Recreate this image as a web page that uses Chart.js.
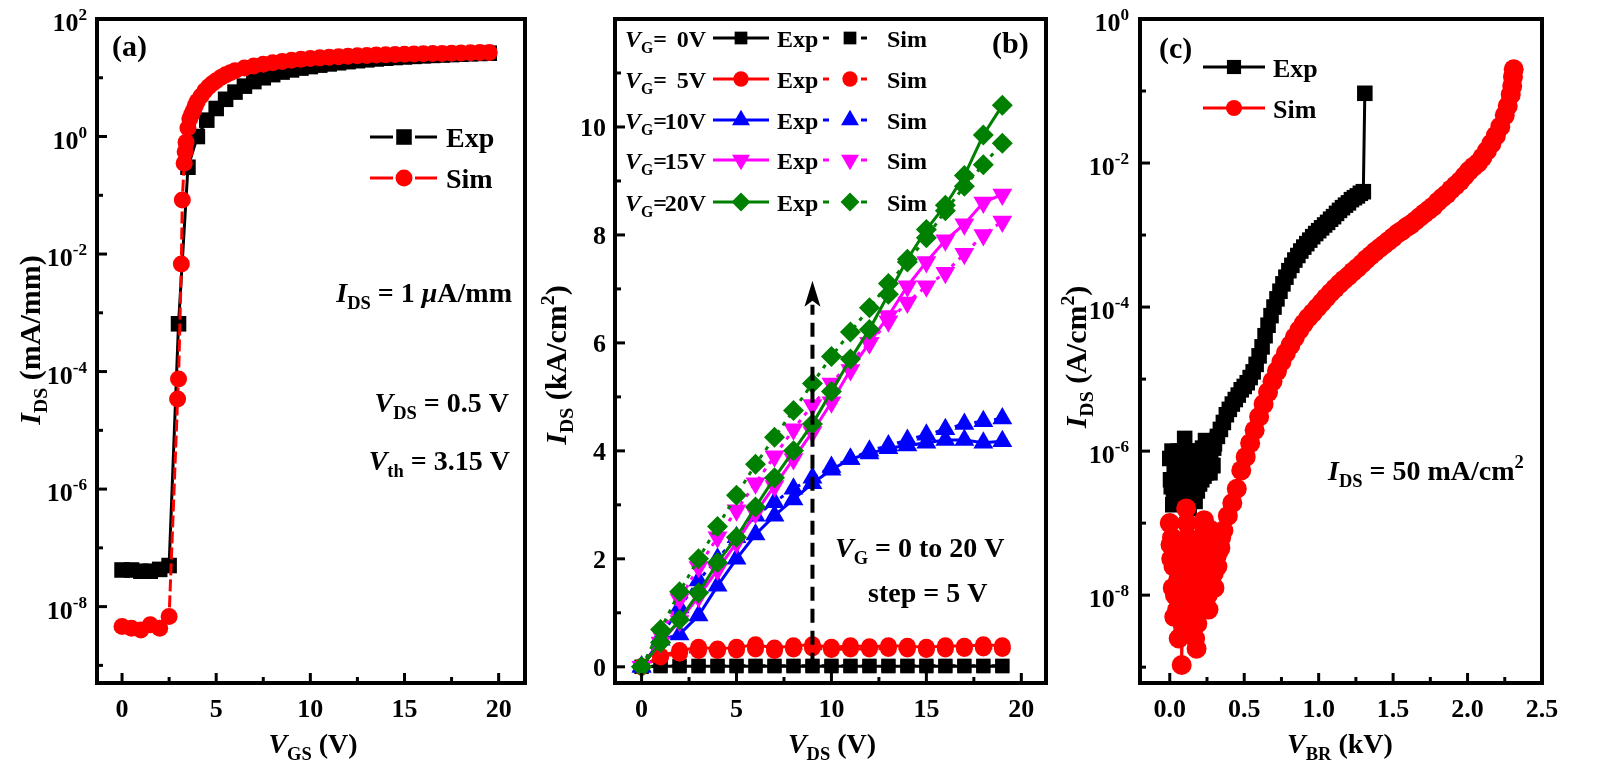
<!DOCTYPE html>
<html><head><meta charset="utf-8">
<script src="https://cdn.jsdelivr.net/npm/chart.js@4/dist/chart.umd.min.js"></script>
<style>
html,body{margin:0;padding:0;background:#fff;}
body{width:1599px;height:767px;overflow:hidden;position:relative;}
canvas{position:absolute;left:0;top:0;}
</style></head><body>
<canvas id="ca" width="1599" height="767"></canvas>
<canvas id="cb" width="1599" height="767"></canvas>
<canvas id="cc" width="1599" height="767"></canvas>
<script>
// ---------------- DATA ----------------
// Panel (a): transfer curve, log scale
const aExpV = [0,0.5,1,1.5,2,2.5,3,3.5,4,4.5,5,5.5,6,6.5,7,7.5,8,8.5,9,9.5,10,10.5,11,11.5,12,12.5,13,13.5,14,14.5,15,15.5,16,16.5,17,17.5,18,18.5,19,19.5];
const aExpI = [4.2e-8,4.2e-8,4.0e-8,4.0e-8,4.3e-8,5.0e-8,6.5e-4,0.3,1.0,1.9,3.0,4.3,5.7,7.2,8.6,10.0,11.3,12.5,13.6,14.6,15.5,16.4,17.2,18.0,18.8,19.5,20.2,20.9,21.5,22.1,22.6,23.1,23.6,24.0,24.4,24.8,25.2,25.6,25.9,26.2];
const aSimV = [0,0.5,1,1.5,2,2.5,2.95,3.0,3.15,3.2,3.3,3.35,3.4,3.5,3.6,3.7,3.8,3.9,4.0,4.2,4.4,4.6,4.8,5.0,5.25,5.5,5.75,6,6.5,7,7.5,8,8.5,9,9.5,10,10.5,11,11.5,12,12.5,13,13.5,14,14.5,15,15.5,16,16.5,17,17.5,18,18.5,19,19.5];
const aSimI = [4.6e-9,4.3e-9,4.0e-9,4.9e-9,4.3e-9,6.8e-9,3.4e-5,7.5e-5,6.8e-3,8.3e-2,0.35,0.55,0.8,1.4,2.0,2.4,2.8,3.4,4.0,4.9,6.0,7.0,8.0,8.9,10.1,11.2,12.2,13.2,14.6,15.8,17.0,18.0,19.0,19.9,20.6,21.3,21.8,22.3,22.8,23.3,23.7,24.0,24.3,24.6,24.9,25.1,25.4,25.6,25.8,26.0,26.2,26.4,26.6,26.8,27.0];
const aXTicks = [0,5,10,15,20];
const aYExp = [2,0,-2,-4,-6,-8];

// Panel (b): output curves (kA/cm2)
const bV = [0,1,2,3,4,5,6,7,8,9,10,11,12,13,14,15,16,17,18,19];
const bExp0  = [0,0.01,0.01,0.01,0.01,0.01,0.01,0.01,0.01,0.01,0.01,0.01,0.01,0.01,0.01,0.01,0.01,0.01,0.01,0.01];
const bSim0  = [0,0.02,0.02,0.02,0.02,0.02,0.02,0.02,0.02,0.02,0.02,0.02,0.02,0.02,0.02,0.02,0.02,0.02,0.02,0.02];
const bExp5  = [0,0.2,0.3,0.36,0.33,0.36,0.41,0.35,0.39,0.41,0.36,0.39,0.37,0.39,0.38,0.36,0.39,0.38,0.41,0.39];
const bSim5  = [0,0.18,0.25,0.3,0.3,0.31,0.33,0.3,0.33,0.35,0.32,0.33,0.33,0.34,0.33,0.32,0.33,0.34,0.35,0.34];
const bExp10 = [0,0.5,0.6,0.95,1.5,2.0,2.45,2.8,3.1,3.4,3.65,3.85,3.95,4.05,4.1,4.15,4.2,4.2,4.15,4.18];
const bSim10 = [0,0.55,1.1,1.6,2.0,2.4,2.8,3.05,3.3,3.5,3.7,3.85,4.0,4.1,4.2,4.3,4.4,4.5,4.55,4.6];
const bExp15 = [0,0.45,0.85,1.3,1.8,2.3,2.85,3.35,3.85,4.35,4.9,5.5,6.0,6.5,7.05,7.5,7.9,8.2,8.6,8.75];
const bSim15 = [0,0.6,1.25,1.85,2.4,2.9,3.4,3.9,4.4,4.85,5.25,5.65,6.0,6.4,6.75,7.05,7.3,7.65,8.0,8.25];
const bExp20 = [0,0.45,0.87,1.37,1.93,2.4,2.96,3.5,4.0,4.5,5.1,5.7,6.25,6.9,7.55,8.1,8.55,9.1,9.85,10.4];
const bSim20 = [0,0.69,1.39,2.0,2.6,3.18,3.75,4.25,4.75,5.25,5.75,6.2,6.65,7.1,7.5,7.95,8.45,8.9,9.3,9.7];
const bGateLabels = ['0V','5V','10V','15V','20V'];
const bXTicks = [0,5,10,15,20];
const bYTicks = [0,2,4,6,8,10];
const bArrow = {x:9, y0:0, y1:7.15};

// Panel (c): breakdown, log scale (A/cm2 vs kV)
const cExpV = [0.000,0.005,0.010,0.015,0.020,0.025,0.030,0.035,0.040,0.045,0.050,0.055,0.060,0.065,0.070,0.075,0.080,0.085,0.090,0.095,
  0.100,0.105,0.110,0.115,0.120,0.125,0.130,0.135,0.140,0.145,0.150,0.155,0.160,0.165,0.170,0.175,0.180,0.185,0.190,0.195,
  0.200,0.205,0.210,0.215,0.220,0.225,0.230,0.235,0.240,0.245,0.250,0.255,0.260,0.265,0.270,0.275,0.280,0.285,0.290,0.295,0.300,
  0.32,0.34,0.36,0.38,0.40,0.42,0.44,0.46,0.48,0.50,0.52,0.54,0.56,0.58,0.60,0.62,0.64,0.66,0.68,0.70,0.72,0.74,0.76,0.78,0.80,0.82,0.84,0.86,0.88,0.90,0.92,0.94,0.96,0.98,1.00,1.02,1.04,1.06,1.08,1.10,1.12,1.14,1.16,1.18,1.20,1.22,1.24,1.26,1.28,1.30,1.31];
const cExpI = [7.9e-7,4.0e-7,3.2e-7,1.0e-6,1.8e-7,2.8e-7,5.0e-7,7.1e-7,2.5e-7,3.5e-7,6.3e-7,1.0e-6,2.0e-7,2.8e-7,4.0e-7,6.3e-7,1.0e-6,2.0e-7,3.2e-7,7.9e-7,
  1.5e-6,3.5e-7,6.3e-7,1.0e-6,2.5e-7,4.5e-7,1.6e-7,2.8e-7,4.0e-7,6.3e-7,7.9e-7,2.5e-7,3.2e-7,8.9e-7,2.0e-7,4.0e-7,5.0e-7,2.8e-7,1.0e-6,5.6e-7,
  3.5e-7,1.0e-6,6.3e-7,4.0e-7,1.1e-6,7.1e-7,4.5e-7,8.9e-7,1.4e-6,5.0e-7,7.1e-7,1.1e-6,1.26e-6,7.9e-7,5.0e-7,1.0e-6,1.1e-6,6.3e-7,6.3e-7,1.1e-6,1.26e-6,
  1.6e-6,2.0e-6,2.5e-6,3.2e-6,3.8e-6,4.5e-6,5.2e-6,6.0e-6,7.1e-6,7.9e-6,8.9e-6,1.05e-5,1.26e-5,1.6e-5,2.1e-5,2.8e-5,4.0e-5,5.6e-5,7.6e-5,1.0e-4,1.3e-4,1.66e-4,2.1e-4,2.6e-4,3.2e-4,3.8e-4,4.5e-4,5.2e-4,6.0e-4,6.8e-4,7.6e-4,8.5e-4,9.5e-4,1.05e-3,1.15e-3,1.26e-3,1.38e-3,1.5e-3,1.66e-3,1.8e-3,2.0e-3,2.2e-3,2.4e-3,2.6e-3,2.8e-3,3.1e-3,3.3e-3,3.5e-3,3.8e-3,4.0e-3,9.3e-2];
const cSimV = [0.000,0.005,0.010,0.015,0.020,0.025,0.030,0.035,0.040,0.045,0.050,0.055,0.060,0.065,0.070,0.075,0.080,0.085,0.090,0.095,
  0.100,0.105,0.110,0.115,0.120,0.125,0.130,0.135,0.140,0.145,0.150,0.155,0.160,0.165,0.170,0.175,0.180,0.185,0.190,0.195,
  0.200,0.205,0.210,0.215,0.220,0.225,0.230,0.235,0.240,0.245,0.250,0.255,0.260,0.265,0.270,0.275,0.280,0.285,0.290,0.295,
  0.300,0.305,0.310,0.315,0.320,0.325,0.330,0.335,0.340,0.345,
  0.36,0.39,0.42,0.45,0.48,0.51,0.54,0.57,0.60,0.63,0.66,0.69,0.72,0.75,0.78,0.81,0.84,0.87,0.90,0.93,0.96,0.99,1.02,1.05,1.08,1.11,1.14,1.17,1.20,1.23,1.26,1.29,1.32,1.35,1.38,1.41,1.44,1.47,1.50,1.53,1.56,1.59,1.62,1.65,1.68,1.71,1.74,1.77,1.80,1.83,1.86,1.89,1.92,1.95,1.98,2.01,2.04,2.07,2.10,2.13,2.16,2.19,2.22,2.25,2.27,2.29,2.30,2.305,2.31];
const cSimI = [1.0e-7,5.0e-8,3.2e-8,6.3e-8,1.26e-8,2.5e-8,5.0e-9,1.0e-8,2.5e-8,4.0e-8,6.3e-9,1.6e-8,2.5e-9,7.9e-9,5.0e-9,2.0e-8,1.07e-9,4.0e-9,3.2e-9,1.26e-8,
  1.6e-8,5.0e-8,1.6e-7,1.0e-7,6.3e-8,3.2e-8,2.5e-8,1.26e-8,7.9e-9,2.0e-8,3.2e-8,1.0e-8,4.0e-9,6.3e-9,2.5e-9,5.0e-9,1.8e-9,4.0e-9,6.3e-9,1.6e-8,
  2.5e-8,4.0e-8,5.0e-8,2.5e-8,1.26e-8,6.3e-8,1.1e-7,7.9e-8,4.0e-8,2.5e-8,1.6e-8,1.0e-8,6.3e-9,1.26e-8,2.5e-8,5.0e-8,7.9e-8,5.0e-8,3.2e-8,2.0e-8,
  1.26e-8,2.5e-8,5.0e-8,3.5e-8,2.5e-8,4.0e-8,6.3e-8,5.0e-8,4.5e-8,6.3e-8,
  7.9e-8,1.26e-7,1.9e-7,3.0e-7,5.4e-7,8.3e-7,1.29e-6,1.95e-6,3.0e-6,4.5e-6,6.6e-6,9.3e-6,1.29e-5,1.74e-5,2.3e-5,2.95e-5,3.8e-5,4.8e-5,5.9e-5,7.1e-5,8.3e-5,9.8e-5,1.15e-4,1.35e-4,1.58e-4,1.82e-4,2.1e-4,2.4e-4,2.7e-4,3.1e-4,3.5e-4,4.0e-4,4.6e-4,5.2e-4,5.9e-4,6.6e-4,7.4e-4,8.3e-4,9.3e-4,1.05e-3,1.15e-3,1.29e-3,1.41e-3,1.58e-3,1.78e-3,2.0e-3,2.24e-3,2.5e-3,2.9e-3,3.3e-3,3.7e-3,4.3e-3,4.9e-3,5.6e-3,6.6e-3,7.8e-3,8.9e-3,1.0e-2,1.2e-2,1.48e-2,1.86e-2,2.4e-2,3.2e-2,4.6e-2,6.2e-2,8.9e-2,0.117,0.158,0.2];
const cXTicks = [0,0.5,1.0,1.5,2.0,2.5];
const cXLabels = ['0.0','0.5','1.0','1.5','2.0','2.5'];
const cYExp = [0,-2,-4,-6,-8];

// ---------------- HELPERS ----------------
const FONT = '"Liberation Serif","Times New Roman",serif';
const T = t => ({t}), I = t => ({t, i:true}), SUB = t => ({t, sub:true}), SUP = t => ({t, sup:true});
function segFont(s, size){ const sz = (s.sub||s.sup) ? size*0.66 : size; return (s.i?'italic ':'') + 'bold ' + sz.toFixed(1) + 'px ' + FONT; }
function richWidth(ctx, segs, size){ let w=0; segs.forEach(s=>{ ctx.font=segFont(s,size); w+=ctx.measureText(s.t).width; }); return w; }
function drawRich(ctx, segs, x, y, size, align){
  const w = richWidth(ctx, segs, size);
  let cx = align==='right' ? x-w : (align==='center' ? x-w/2 : x);
  ctx.textAlign='left'; ctx.textBaseline='alphabetic'; ctx.fillStyle='#000';
  segs.forEach(s=>{ ctx.font=segFont(s,size); const dy = s.sub ? size*0.24 : (s.sup ? -size*0.42 : 0); ctx.fillText(s.t, cx, y+dy); cx += ctx.measureText(s.t).width; });
}
function drawRotated(ctx, segs, cx, cy, size){
  ctx.save(); ctx.translate(cx, cy); ctx.rotate(-Math.PI/2);
  drawRich(ctx, segs, 0, size*0.34, size, 'center'); ctx.restore();
}
function line(ctx,x1,y1,x2,y2){ ctx.beginPath(); ctx.moveTo(x1,y1); ctx.lineTo(x2,y2); ctx.stroke(); }
function frameAndTicks(chart, xMaj, xMin, yMaj, yMin){
  const ctx=chart.ctx, a=chart.chartArea, xs=chart.scales.x, ys=chart.scales.y;
  ctx.save(); ctx.strokeStyle='#000'; ctx.setLineDash([]);
  ctx.lineWidth=3;
  xMaj.forEach(v=>{ const p=xs.getPixelForValue(v); line(ctx,p,a.bottom,p,a.bottom-10); });
  xMin.forEach(v=>{ const p=xs.getPixelForValue(v); line(ctx,p,a.bottom,p,a.bottom-6); });
  yMaj.forEach(v=>{ const p=ys.getPixelForValue(v); line(ctx,a.left,p,a.left+10,p); });
  yMin.forEach(v=>{ const p=ys.getPixelForValue(v); line(ctx,a.left,p,a.left+6,p); });
  ctx.lineWidth=4;
  ctx.strokeRect(a.left, a.top, a.right-a.left, a.bottom-a.top);
  ctx.restore();
}
function mark(ctx, style, x, y, r, color, rot){
  ctx.save(); ctx.fillStyle=color; ctx.beginPath();
  if(style==='rect'){ const s=r*Math.SQRT1_2; ctx.rect(x-s,y-s,2*s,2*s); }
  else if(style==='circle'){ ctx.arc(x,y,r,0,Math.PI*2); }
  else if(style==='rectRot'){ ctx.moveTo(x,y-r); ctx.lineTo(x+r,y); ctx.lineTo(x,y+r); ctx.lineTo(x-r,y); ctx.closePath(); }
  else if(style==='triangle'){ const sgn = rot?-1:1; ctx.moveTo(x,y-sgn*r); ctx.lineTo(x+r*0.866,y+sgn*r*0.5); ctx.lineTo(x-r*0.866,y+sgn*r*0.5); ctx.closePath(); }
  ctx.fill(); ctx.restore();
}
const pts = (xs, ys) => xs.map((x,i)=>({x, y:ys[i]}));
function ds(label, xs, ys, color, style, r, dash, rot){
  return { label, data: pts(xs,ys), borderColor: color, backgroundColor: color, borderWidth: 3,
    borderDash: dash || [], pointStyle: style, pointRadius: r, pointBorderWidth: 0, pointRotation: rot||0,
    pointHoverRadius: r, showLine: true, fill: false, tension: 0 };
}
const baseOpts = (pad, xmin, xmax, ytype, ymin, ymax) => ({
  responsive:false, animation:false, events:[],
  layout:{ padding: pad },
  plugins:{ legend:{display:false}, tooltip:{enabled:false} },
  scales:{ x:{ type:'linear', min:xmin, max:xmax, display:false },
           y:{ type:ytype, min:ymin, max:ymax, display:false } }
});

// ---------------- PANEL (a) ----------------
new Chart(document.getElementById('ca'), {
  type:'line',
  data:{ datasets:[
    ds('Sim', aSimV, aSimI, '#ff0000', 'circle', 8.5, [12,4]),
    ds('Exp', aExpV, aExpI, '#000000', 'rect', 11)
  ]},
  options: baseOpts({left:97, right:1599-525, top:19, bottom:767-683}, -1.33, 21.4, 'logarithmic', Math.pow(10,-9.3), 100),
  plugins:[{ id:'decoA', afterDraw(chart){
    const ctx=chart.ctx, a=chart.chartArea, xs=chart.scales.x, ys=chart.scales.y;
    frameAndTicks(chart, aXTicks, [2.5,7.5,12.5,17.5], aYExp.map(e=>Math.pow(10,e)), [1,-1,-3,-5,-7,-9].map(e=>Math.pow(10,e)));
    aXTicks.forEach(v=> drawRich(ctx,[T(String(v))], xs.getPixelForValue(v), a.bottom+34, 26, 'center'));
    aYExp.forEach(e=> drawRich(ctx,[T('10'),SUP(String(e))], 87, ys.getPixelForValue(Math.pow(10,e))+12, 26, 'right'));
    drawRotated(ctx,[I('I'),SUB('DS'),T(' (mA/mm)')], 30, 340, 30);
    drawRich(ctx,[I('V'),SUB('GS'),T(' (V)')], 313, 753, 28, 'center');
    drawRich(ctx,[T('(a)')], 112, 56, 30, 'left');
    ctx.save(); ctx.strokeStyle='#000'; ctx.lineWidth=3;
    line(ctx,370,137,393,137); line(ctx,415,137,437,137); ctx.restore();
    mark(ctx,'rect',404,137,11,'#000');
    ctx.save(); ctx.strokeStyle='#ff0000'; ctx.lineWidth=3;
    line(ctx,370,178,393,178); line(ctx,415,178,437,178); ctx.restore();
    mark(ctx,'circle',404,178,8.5,'#ff0000');
    drawRich(ctx,[T('Exp')], 446, 147, 28, 'left');
    drawRich(ctx,[T('Sim')], 446, 188, 28, 'left');
    drawRich(ctx,[I('I'),SUB('DS'),T(' = 1 '),I('\u03bc'),T('A/mm')], 512, 302, 28, 'right');
    drawRich(ctx,[I('V'),SUB('DS'),T(' = 0.5 V')], 509, 412, 28, 'right');
    drawRich(ctx,[I('V'),SUB('th'),T(' = 3.15 V')], 510, 470, 28, 'right');
  }}]
});

// ---------------- PANEL (b) ----------------
const colB = ['#000000','#ff0000','#0000ff','#ff00ff','#008000'];
const styB = [['rect',10,0],['circle',8.5,0],['triangle',11.5,0],['triangle',11.5,180],['rectRot',10.5,0]];
const expB = [bExp0,bExp5,bExp10,bExp15,bExp20];
const simB = [bSim0,bSim5,bSim10,bSim15,bSim20];
const dotted = [4,6];
const dsB = [];
for(let k=4;k>=0;k--){
  dsB.push(ds('Sim '+bGateLabels[k], bV, simB[k], colB[k], styB[k][0], styB[k][1], dotted, styB[k][2]));
  dsB.push(ds('Exp '+bGateLabels[k], bV, expB[k], colB[k], styB[k][0], styB[k][1], null, styB[k][2]));
}
new Chart(document.getElementById('cb'), {
  type:'line',
  data:{ datasets: dsB },
  options: baseOpts({left:615, right:1599-1046, top:19, bottom:767-683}, -1.4, 21.3, 'linear', -0.3, 12.0),
  plugins:[{ id:'decoB', afterDraw(chart){
    const ctx=chart.ctx, a=chart.chartArea, xs=chart.scales.x, ys=chart.scales.y;
    const ax=xs.getPixelForValue(bArrow.x), ay0=ys.getPixelForValue(bArrow.y0), ay1=ys.getPixelForValue(bArrow.y1);
    ctx.save(); ctx.strokeStyle='#000'; ctx.lineWidth=4; ctx.setLineDash([14,8]);
    line(ctx,ax,ay0,ax,ay1+24); ctx.setLineDash([]);
    ctx.fillStyle='#000'; ctx.beginPath(); ctx.moveTo(ax,ay1); ctx.lineTo(ax+8,ay1+26); ctx.lineTo(ax,ay1+20); ctx.lineTo(ax-8,ay1+26); ctx.closePath(); ctx.fill();
    ctx.restore();
    frameAndTicks(chart, bXTicks, [2.5,7.5,12.5,17.5], bYTicks, [1,3,5,7,9,11]);
    bXTicks.forEach(v=> drawRich(ctx,[T(String(v))], xs.getPixelForValue(v), a.bottom+34, 26, 'center'));
    bYTicks.forEach(v=> drawRich(ctx,[T(String(v))], 606, ys.getPixelForValue(v)+9, 26, 'right'));
    drawRotated(ctx,[I('I'),SUB('DS'),T(' (kA/cm'),SUP('2'),T(')')], 556, 365, 30);
    drawRich(ctx,[I('V'),SUB('DS'),T(' (V)')], 832, 753, 28, 'center');
    drawRich(ctx,[T('(b)')], 992, 53, 30, 'left');
    const rows=[38,79,120,160,202];
    for(let k=0;k<5;k++){
      const y=rows[k], c=colB[k], st=styB[k];
      drawRich(ctx,[I('V'),SUB('G'),T('=')], 625, y+9, 24, 'left');
      drawRich(ctx,[T(bGateLabels[k])], 706, y+9, 24, 'right');
      ctx.save(); ctx.strokeStyle=c; ctx.lineWidth=3; line(ctx,713,y,769,y); ctx.restore();
      mark(ctx, st[0], 741, y, st[1]*0.9, c, st[2]);
      drawRich(ctx,[T('Exp')], 777, y+9, 24, 'left');
      ctx.save(); ctx.strokeStyle=c; ctx.lineWidth=3; line(ctx,823,y,829,y); line(ctx,861,y,867,y); ctx.restore();
      mark(ctx, st[0], 850, y, st[1]*0.9, c, st[2]);
      drawRich(ctx,[T('Sim')], 887, y+9, 24, 'left');
    }
    drawRich(ctx,[I('V'),SUB('G'),T(' = 0 to 20 V')], 835, 557, 28, 'left');
    drawRich(ctx,[T('step = 5 V')], 868, 602, 28, 'left');
  }}]
});

// ---------------- PANEL (c) ----------------
new Chart(document.getElementById('cc'), {
  type:'line',
  data:{ datasets:[
    ds('Sim', cSimV, cSimI, '#ff0000', 'circle', 10),
    ds('Exp', cExpV, cExpI, '#000000', 'rect', 11)
  ]},
  options: baseOpts({left:1140, right:1599-1542, top:19, bottom:767-683}, -0.2, 2.5, 'logarithmic', Math.pow(10,-9.22), 1),
  plugins:[{ id:'decoC', afterDraw(chart){
    const ctx=chart.ctx, a=chart.chartArea, xs=chart.scales.x, ys=chart.scales.y;
    frameAndTicks(chart, cXTicks, [0.25,0.75,1.25,1.75,2.25], cYExp.map(e=>Math.pow(10,e)), [-1,-3,-5,-7,-9].map(e=>Math.pow(10,e)));
    cXTicks.forEach((v,i)=> drawRich(ctx,[T(cXLabels[i])], xs.getPixelForValue(v), a.bottom+34, 26, 'center'));
    cYExp.forEach(e=> drawRich(ctx,[T('10'),SUP(String(e))], 1129, ys.getPixelForValue(Math.pow(10,e))+12, 26, 'right'));
    drawRotated(ctx,[I('I'),SUB('DS'),T(' (A/cm'),SUP('2'),T(')')], 1076, 357, 30);
    drawRich(ctx,[I('V'),SUB('BR'),T(' (kV)')], 1340, 753, 28, 'center');
    drawRich(ctx,[T('(c)')], 1159, 58, 30, 'left');
    ctx.save(); ctx.strokeStyle='#000'; ctx.lineWidth=3; line(ctx,1203,67,1265,67); ctx.restore();
    mark(ctx,'rect',1234,67,10,'#000');
    ctx.save(); ctx.strokeStyle='#ff0000'; ctx.lineWidth=3; line(ctx,1203,108,1265,108); ctx.restore();
    mark(ctx,'circle',1234,108,8,'#ff0000');
    drawRich(ctx,[T('Exp')], 1273, 77, 26, 'left');
    drawRich(ctx,[T('Sim')], 1273, 118, 26, 'left');
    drawRich(ctx,[I('I'),SUB('DS'),T(' = 50 mA/cm'),SUP('2')], 1328, 480, 28, 'left');
  }}]
});
</script>
</body></html>
